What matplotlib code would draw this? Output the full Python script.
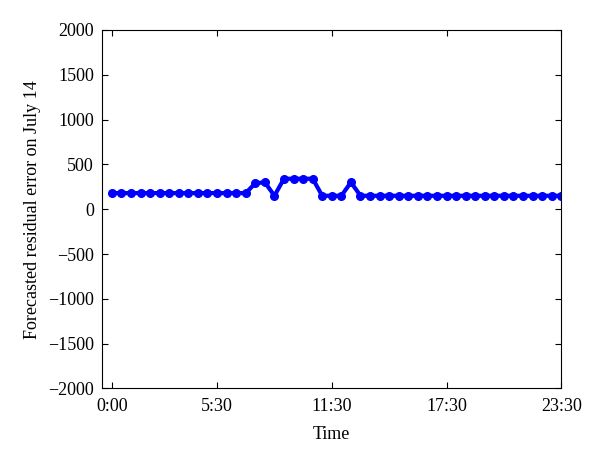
import matplotlib
matplotlib.use("Agg")
import matplotlib.pyplot as plt
import numpy as np

plt.rcParams['font.family'] = ['Liberation Serif', 'DejaVu Serif']

# Half-hourly forecasted residual error values (48 points, 0:00 .. 23:30)
values = [180] * 15 + [290, 300, 150, 340, 340, 340, 340, 150, 150, 150, 300] + [150] * 22
tick_positions = [0, 11, 23, 35, 47]
tick_labels = ['0:00', '5:30', '11:30', '17:30', '23:30']
yticks = [-2000, -1500, -1000, -500, 0, 500, 1000, 1500, 2000]

fig = plt.figure(figsize=(6, 4.68), dpi=100)
ax = fig.add_axes([0.1705, 0.170, 0.765, 0.766])
x = np.arange(len(values))
ax.plot(x, values, color='#0000ff', linewidth=3, marker='o', markersize=5.5,
        markerfacecolor='#0000ff', markeredgecolor='#0000ff')
ax.set_xlim(-1, 47)
ax.set_ylim(-2000, 2000)
ax.set_xticks(tick_positions)
ax.set_xticklabels(tick_labels)
ax.set_yticks(yticks)
ax.set_yticklabels(['\u2212' + str(abs(v)) if v < 0 else str(v) for v in yticks])
ax.tick_params(direction='in', top=True, right=True, labelsize=13, length=4, width=0.8)
ax.tick_params(axis='y', pad=6)
ax.tick_params(axis='x', pad=7)
for s in ax.spines.values():
    s.set_linewidth(0.8)
ax.set_xlabel('Time', fontsize=13, labelpad=8)
ax.set_ylabel('Forecasted residual error on July 14', fontsize=13, labelpad=5)
fig.savefig('out.png', dpi=100)
